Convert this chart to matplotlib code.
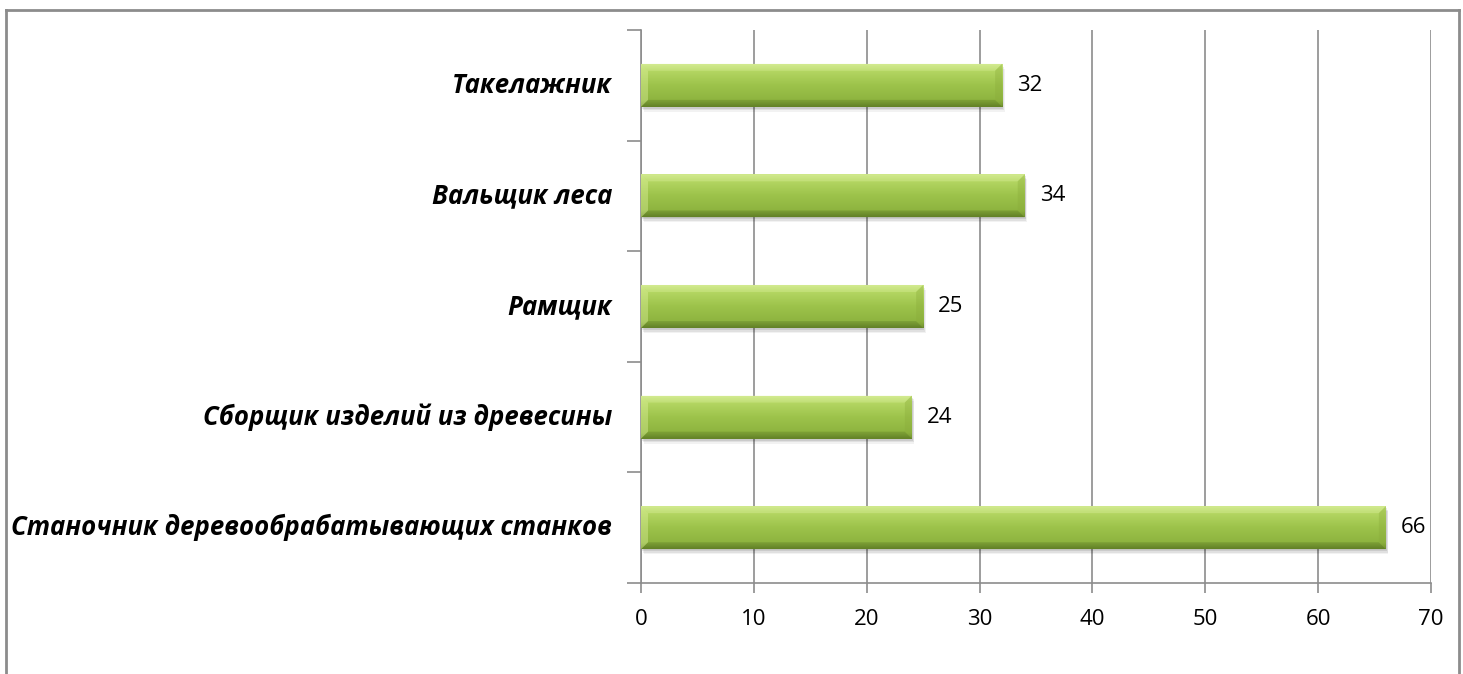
import numpy as np
import matplotlib
matplotlib.use("Agg")
import matplotlib.pyplot as plt
from matplotlib.patches import Rectangle, Polygon
from matplotlib.colors import LinearSegmentedColormap

categories = ["Станочник деревообрабатывающих станков",
              "Сборщик изделий из древесины",
              "Рамщик",
              "Вальщик леса",
              "Такелажник"]
values = [66, 24, 25, 34, 32]
xticks = [0, 10, 20, 30, 40, 50, 60, 70]

W, H = 1463, 674
DPI = 100
fig = plt.figure(figsize=(W / DPI, H / DPI), dpi=DPI)
fig.patch.set_facecolor("white")
PT = 72 / DPI  # points per pixel

# outer frame (open at the bottom)
for xs, ys in [([6 / W, 6 / W], [0, 1 - 10 / H]),
               ([6 / W, 1459 / W], [1 - 10 / H, 1 - 10 / H]),
               ([1459 / W, 1459 / W], [0, 1 - 10 / H])]:
    fig.add_artist(plt.Line2D(xs, ys, transform=fig.transFigure, color="#8c8c8c", lw=2))

ax = fig.add_axes([641 / W, 91 / H, 790 / W, 553 / H])
ax.set_xlim(0, 70)
ax.set_ylim(-0.5, len(categories) - 0.5)

ypos = np.arange(len(categories))
bar_h = 0.39

ax.set_axisbelow(True)
ax.xaxis.grid(True, color="#8c8c8c", lw=1.2)
for s in ["top", "right"]:
    ax.spines[s].set_visible(False)
for s in ["left", "bottom"]:
    ax.spines[s].set_color("#8c8c8c")
    ax.spines[s].set_linewidth(1.2)

ax.set_xticks(xticks)
ax.set_xticklabels([str(t) for t in xticks], fontsize=16, family="Open Sans")
ax.tick_params(axis="x", length=7, color="#8c8c8c", width=1.2, pad=12)
ax.set_yticks(np.arange(-0.5, len(categories)))
ax.set_yticklabels([])
ax.tick_params(axis="y", length=10, color="#8c8c8c", width=1.2, direction="out")

# category labels, sized so the longest fits the reference width
fig.canvas.draw()
renderer = fig.canvas.get_renderer()
probe = fig.text(0, 0, categories[0], fontsize=16, fontweight="bold", fontstyle="italic",
                 family="Open Sans")
wpx = probe.get_window_extent(renderer).width
probe.remove()
lab_fs = 16 * 602 / wpx

for y, c in zip(ypos, categories):
    ax.annotate(c, xy=(0, y), xycoords="data", xytext=(-29 * PT, 0), textcoords="offset points",
                ha="right", va="center", fontsize=lab_fs, fontweight="bold", fontstyle="italic",
                family="Open Sans", annotation_clip=False)

# gradient: row 0 = top of bar
cmap = LinearSegmentedColormap.from_list("g", [(0.0, "#cde889"), (0.14, "#b6d865"),
                                                 (0.5, "#9dc34b"), (0.86, "#8db33f"),
                                                 (1.0, "#68872b")])
px_x = 70 / 790
px_y = len(categories) / 553.0
bev_x = 7 * px_x
bev_y = 7 * px_y

for y, v in zip(ypos, values):
    y0, y1 = y - bar_h / 2, y + bar_h / 2
    # soft shadow
    for k, a in [(5, 0.05), (3.5, 0.07), (2, 0.09)]:
        ax.add_patch(Rectangle((k * 0.5 * px_x, y0 - k * px_y), v, bar_h, facecolor="black",
                               alpha=a, edgecolor="none", zorder=2))
    rect = Rectangle((0, y0), v, bar_h, facecolor="none", edgecolor="none", zorder=3)
    ax.add_patch(rect)
    grad = np.linspace(0, 1, 100).reshape(-1, 1)
    im = ax.imshow(grad, cmap=cmap, aspect="auto", extent=(0, v, y0, y1), origin="upper",
                   zorder=3, interpolation="bilinear")
    im.set_clip_path(rect)
    top = Polygon([(0, y1), (v, y1), (v - bev_x, y1 - bev_y), (bev_x, y1 - bev_y)],
                  closed=True, facecolor="#e6f6ad", alpha=0.30, edgecolor="none", zorder=4)
    bot = Polygon([(0, y0), (v, y0), (v - bev_x, y0 + bev_y), (bev_x, y0 + bev_y)],
                  closed=True, facecolor="#56731f", alpha=0.30, edgecolor="none", zorder=4)
    right = Polygon([(v, y0), (v, y1), (v - bev_x, y1 - bev_y), (v - bev_x, y0 + bev_y)],
                    closed=True, facecolor="#8aab3a", alpha=0.35, edgecolor="none", zorder=4)
    left = Polygon([(0, y0), (0, y1), (bev_x, y1 - bev_y), (bev_x, y0 + bev_y)],
                   closed=True, facecolor="#e0f3a0", alpha=0.40, edgecolor="none", zorder=4)
    for p in (top, bot, right, left):
        ax.add_patch(p)
    ax.annotate(str(v), xy=(v, y), xytext=(15 * PT, 0), textcoords="offset points",
                ha="left", va="center", fontsize=16, family="Open Sans", zorder=5)

fig.savefig("out.png", dpi=DPI, facecolor="white")
